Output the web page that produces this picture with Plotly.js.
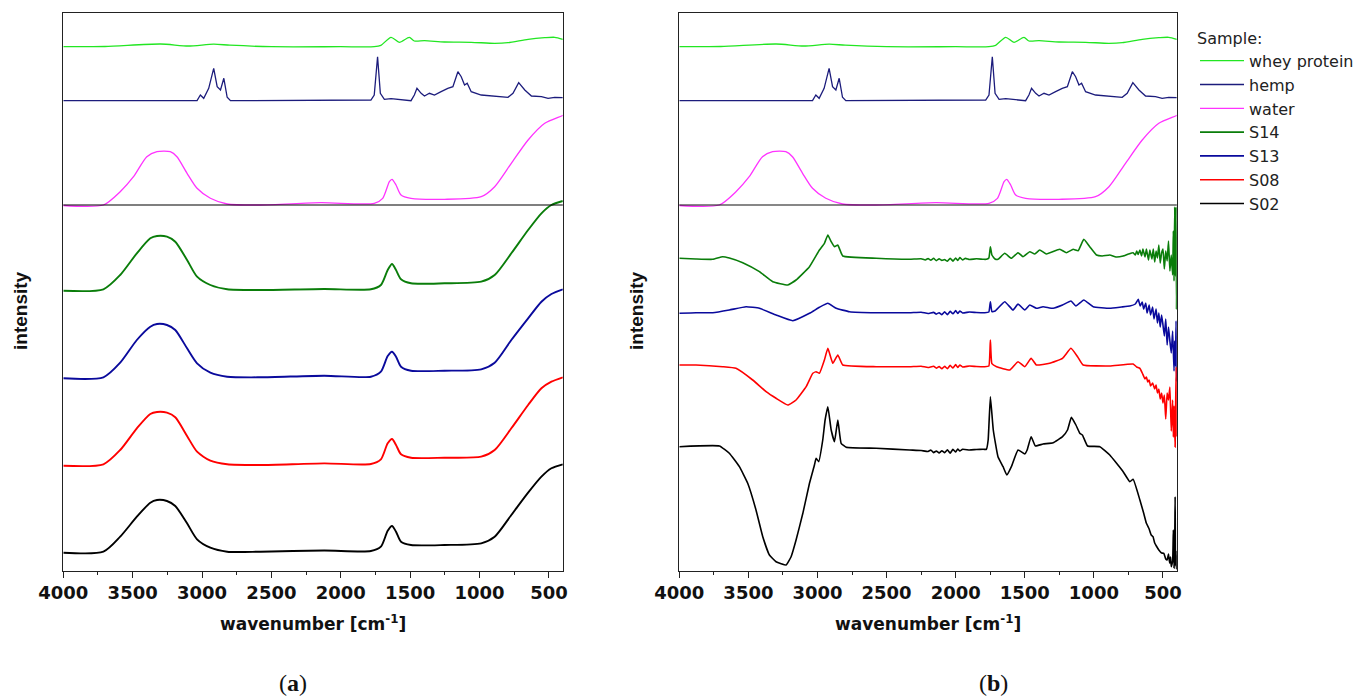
<!DOCTYPE html>
<html>
<head>
<meta charset="utf-8">
<script src="https://cdn.plot.ly/plotly-3.0.1.min.js"></script>
<style>html,body{margin:0;padding:0;background:#fff;}#chart{width:1362px;height:697px;}</style>
</head>
<body>
<div id="chart"></div>
<script>
// ---------- reference spectra (top section, shared by both panels) ----------
const wnWhey = [4000, 3700, 3300, 3100, 2916, 2800, 2500, 2000, 1759, 1711, 1638, 1578, 1506, 1470, 1397, 1253, 1060, 891, 795, 650, 530, 458, 400];
const intWhey = [524.3, 524.5, 527, 525, 526.8, 525.8, 524.3, 524.3, 524.3, 525.7, 533.7, 528.7, 533.7, 530, 530.3, 529, 528.7, 527.7, 528.3, 531.7, 533.3, 533.7, 531.7];

const wnHemp = [4000, 3036, 3012, 2988, 2952, 2916, 2891, 2867, 2843, 2819, 2795, 1783, 1759, 1735, 1715, 1686, 1638, 1494, 1470, 1451, 1421, 1397, 1361, 1325, 1277, 1229, 1192, 1156, 1132, 1108, 1089, 1060, 988, 891, 795, 759, 718, 674, 626, 554, 506, 458, 400];
const intHemp = [470.3, 470.3, 476, 472.7, 482.7, 502.7, 484.3, 481, 492.7, 473.7, 470.3, 471, 476, 514.3, 477.7, 471.7, 472.3, 470.3, 476, 482.7, 477.7, 475, 477.7, 476, 479.3, 482.7, 484.3, 499.3, 494.3, 486, 487.7, 479.3, 476, 475, 473.7, 477.7, 488.3, 481, 475, 474.3, 472.7, 473.7, 473.3];

const wnWater = [4000, 3711, 3590, 3494, 3398, 3325, 3229, 3181, 3108, 3036, 2940, 2819, 2578, 2144, 1759, 1698, 1650, 1631, 1602, 1566, 1494, 1253, 988, 891, 771, 650, 530, 409, 400];
const intWater = [365.5, 366, 379.3, 394.3, 414.3, 419.3, 419.3, 414.3, 397.7, 382.7, 372.7, 367, 366, 368.3, 367.7, 372.7, 389.3, 391.7, 386, 376, 372.7, 371.7, 374.3, 384.3, 407.7, 431, 447.7, 455, 455.7];

// ---------- panel (a): samples ----------
const wnA = [4000, 3711, 3590, 3470, 3373, 3325, 3253, 3193, 3108, 3036, 2940, 2819, 2578, 2120, 1783, 1711, 1662, 1631, 1602, 1566, 1494, 1253, 988, 891, 771, 650, 554, 482, 400];
const s14A = [280.3, 281.7, 296, 317.7, 332.7, 335, 334.3, 329.3, 311, 294.3, 286, 281.7, 281, 282, 281.7, 286, 301, 307, 301, 291.7, 287.7, 287.7, 289.3, 296, 317.7, 341, 357.7, 366, 370];
const s13A = [192.7, 193.7, 208.3, 231, 244.3, 247, 246, 241, 222.7, 207.7, 198.3, 194.3, 193.7, 195.3, 194.3, 199.3, 215, 219.3, 214.3, 204.3, 200.3, 200.3, 201.7, 208.3, 231, 252.7, 269.3, 277, 281.7];
const s08A = [105.3, 106.7, 121, 142.7, 157, 159, 158.3, 153.7, 135, 119.3, 110.3, 106.7, 106, 107.6, 107, 111.7, 127.7, 132, 126, 116.7, 113.3, 113.3, 114.3, 121, 142.7, 166, 182.7, 189.3, 193.7];
const s02A = [18.3, 19.3, 34.3, 54.3, 68.3, 71, 70, 65, 47.7, 31.7, 23.3, 19.3, 19.3, 20.5, 20, 24.3, 40.3, 45, 39.3, 29.3, 26, 26, 27.7, 34.3, 56, 78.3, 94.3, 102.7, 106.7];

// ---------- panel (b): samples ----------
const wnS14B = [4000, 3879, 3758, 3686, 3638, 3541, 3420, 3324, 3215, 3155, 3058, 2986, 2950, 2925, 2901, 2877, 2853, 2817, 2575, 2334, 2250, 2220, 2200, 2180, 2160, 2140, 2120, 2100, 2080, 2060, 2040, 2020, 2000, 1985, 1970, 1950, 1930, 1900, 1850, 1800, 1778, 1760, 1749, 1738, 1715, 1694, 1645, 1597, 1549, 1513, 1464, 1428, 1392, 1343, 1247, 1199, 1150, 1114, 1073, 1030, 981, 940, 885, 840, 788, 750, 716, 700, 690, 680, 667, 655, 645, 630, 620, 605, 595, 580, 570, 560, 550, 540, 530, 520, 510, 500, 490, 480, 470, 460, 450, 440, 430, 425, 420, 415, 410, 405, 402, 400];
const s14B = [312.7, 312, 311.7, 314.3, 313, 308.3, 299.3, 289.3, 286, 291, 304.3, 321, 327.7, 336, 329.3, 324.3, 326, 315, 312.7, 311.7, 312.3, 311, 312.5, 310.8, 312.6, 310.4, 312.2, 310.6, 311.5, 309.8, 312.8, 309.9, 313, 310.5, 313.4, 311, 312.6, 311.5, 312.2, 311.7, 311.7, 313, 324.3, 316, 312, 311.7, 317.7, 312.7, 318.3, 314.3, 319.3, 317, 321, 317, 321.7, 318.3, 321.7, 320.3, 331.7, 324.3, 316, 315, 316, 314, 315, 317, 318.3, 316, 320, 316.5, 321, 315, 322, 314, 322, 311, 321, 312, 322, 309, 320, 313, 326, 308, 318, 322, 302, 320, 310, 330, 300, 316, 296, 340, 290, 364, 295, 364, 262, 300];

const wnS13B = [4000, 3879, 3758, 3638, 3517, 3420, 3300, 3179, 3058, 2986, 2925, 2865, 2768, 2575, 2334, 2250, 2200, 2160, 2140, 2120, 2100, 2080, 2060, 2040, 2020, 2000, 1985, 1970, 1950, 1900, 1850, 1790, 1760, 1749, 1738, 1715, 1645, 1585, 1549, 1500, 1464, 1416, 1368, 1295, 1227, 1166, 1130, 1073, 1005, 885, 800, 740, 700, 679, 665, 650, 640, 625, 615, 600, 590, 575, 565, 550, 540, 530, 520, 510, 500, 490, 480, 470, 460, 450, 440, 430, 420, 415, 410, 405, 402, 400];
const s13B = [257.7, 258.3, 258.3, 261, 264.3, 262.7, 256, 250.3, 257.7, 263.7, 267.7, 262.7, 259.3, 258.3, 258.3, 258.8, 257.5, 258.6, 256.9, 258.3, 256.2, 259.2, 256.4, 259.6, 257.2, 260.4, 257.5, 260, 258, 259, 258.5, 258.3, 259, 269.3, 259.3, 260, 269.3, 261, 267, 261, 266, 262.7, 264.3, 262.7, 266, 270, 265, 271, 264.3, 262.7, 264, 265, 267, 271.7, 265, 269, 262, 268, 258, 266, 256, 264, 252, 262, 248, 258, 244, 256, 246, 235, 252, 226, 244, 230, 218, 240, 200, 230, 205, 250, 190, 195];

const wnS08B = [4000, 3879, 3686, 3590, 3469, 3372, 3300, 3215, 3155, 3082, 3034, 3010, 2986, 2950, 2925, 2889, 2853, 2817, 2575, 2334, 2250, 2200, 2160, 2140, 2120, 2100, 2080, 2060, 2040, 2020, 2000, 1985, 1970, 1950, 1900, 1850, 1790, 1760, 1749, 1738, 1704, 1609, 1549, 1500, 1454, 1416, 1320, 1227, 1166, 1118, 1078, 885, 716, 690, 667, 650, 630, 620, 610, 600, 590, 575, 560, 550, 540, 530, 520, 510, 500, 490, 480, 470, 460, 450, 440, 430, 425, 420, 412, 408, 404, 402, 400];
const s08B = [206, 206, 204.3, 202.7, 191, 179.3, 172.7, 166, 171, 184.3, 197.7, 199.3, 197.7, 211, 222.7, 207.7, 216, 206, 204.3, 204.3, 204.8, 203.5, 204.8, 202.8, 204.4, 202.2, 204.8, 202.3, 205.6, 203, 206.4, 203.5, 206, 204, 205, 204.5, 204.3, 205, 231, 207.3, 204.3, 201, 209.3, 204.3, 212.7, 206, 207.7, 212.7, 222.7, 214.3, 206, 205, 207, 204, 202.7, 198, 192, 194, 189, 191, 185, 188, 182, 186, 178, 182, 172, 178, 168, 176, 152, 178, 171, 184, 140, 171, 134, 165, 124, 170, 204, 135, 150];

const wnS02B = [4000, 3710, 3638, 3565, 3505, 3445, 3396, 3348, 3300, 3227, 3191, 3155, 3106, 3058, 3022, 3010, 2991, 2962, 2945, 2925, 2901, 2877, 2853, 2829, 2792, 2575, 2334, 2250, 2200, 2180, 2160, 2140, 2120, 2100, 2080, 2060, 2040, 2020, 2000, 1985, 1970, 1950, 1900, 1850, 1800, 1778, 1765, 1749, 1728, 1694, 1657, 1630, 1597, 1549, 1500, 1483, 1454, 1423, 1368, 1295, 1227, 1191, 1163, 1130, 1102, 1083, 1046, 957, 885, 788, 740, 716, 667, 640, 620, 600, 585, 572, 560, 548, 530, 510, 494, 480, 470, 460, 452, 445, 440, 430, 425, 420, 415, 412, 409, 405, 402, 400];
const s02B = [124.3, 125, 117.7, 104.3, 87.7, 61, 34.3, 16, 9.3, 6, 14.3, 31, 57.7, 87.7, 106, 112.7, 109.3, 131, 151, 164.3, 141, 129.3, 151, 127.7, 123.7, 122.7, 121, 120.5, 119.5, 121, 118.4, 120, 118, 120.3, 118.3, 121.2, 117.9, 121.6, 119, 122, 120, 121.8, 121, 121.5, 121.7, 121.7, 131, 174.3, 141, 114.3, 104.3, 96, 104.3, 121, 117, 121, 134.3, 125, 127, 128.3, 134.3, 141, 153.7, 146, 137.7, 136, 125, 124.3, 116, 99.3, 89.3, 91.7, 71, 58, 47.7, 42, 36, 34.3, 28, 25, 21, 18, 17.7, 12, 11, 17, 8, 14, 4.3, 10, 41, 3, 30, 74.3, 5, 20, 2, 10];

const seriesNames = ["whey protein", "hemp", "water", "S14", "S13", "S08", "S02"];
const seriesColors = ["#22e622", "#1c1c7c", "#ff33ff", "#0a7d0a", "#0a0a9c", "#ff0000", "#000000"];
const xTickVals = [4000, 3500, 3000, 2500, 2000, 1500, 1000, 500];
const xTickText = ["4000", "3500", "3000", "2500", "2000", "1500", "1000", "500"];
const separatorLevel = 366;

// ---------- build traces ----------
function tr(x, y, idx, xa, ya, width, shape, smooth, legend) {
  return {
    type: "scatter", mode: "lines", x: x, y: y, xaxis: xa, yaxis: ya,
    name: seriesNames[idx], showlegend: legend, legendrank: idx + 1,
    line: {color: seriesColors[idx], width: width, shape: shape, smoothing: smooth},
    hoverinfo: "skip"
  };
}
const traces = [
  tr(wnWhey, intWhey, 0, "x", "y", 1.3, "spline", 0.7, false),
  tr(wnHemp, intHemp, 1, "x", "y", 1.3, "linear", 0, false),
  tr(wnWater, intWater, 2, "x", "y", 1.3, "spline", 0.7, false),
  tr(wnA, s14A, 3, "x", "y", 1.9, "spline", 0.7, false),
  tr(wnA, s13A, 4, "x", "y", 1.9, "spline", 0.7, false),
  tr(wnA, s08A, 5, "x", "y", 1.9, "spline", 0.7, false),
  tr(wnA, s02A, 6, "x", "y", 1.9, "spline", 0.7, false),
  tr(wnWhey, intWhey, 0, "x2", "y2", 1.3, "spline", 0.7, true),
  tr(wnHemp, intHemp, 1, "x2", "y2", 1.3, "linear", 0, true),
  tr(wnWater, intWater, 2, "x2", "y2", 1.3, "spline", 0.7, true),
  tr(wnS14B, s14B, 3, "x2", "y2", 1.6, "spline", 0.35, true),
  tr(wnS13B, s13B, 4, "x2", "y2", 1.6, "spline", 0.35, true),
  tr(wnS08B, s08B, 5, "x2", "y2", 1.6, "spline", 0.35, true),
  tr(wnS02B, s02B, 6, "x2", "y2", 1.6, "spline", 0.35, true)
];

const W = 1362, H = 697;
const axisFont = {family: "DejaVu Sans", size: 18, color: "#111", weight: "bold"};
function xAxis(domain, anchor) {
  return {
    domain: domain, anchor: anchor, range: [4000, 400], autorange: false,
    tickmode: "array", tickvals: xTickVals, ticktext: xTickText,
    ticks: "outside", ticklen: 6, tickwidth: 1, tickcolor: "#222",
    minor: {ticks: "outside", ticklen: 3, tickwidth: 1, tickcolor: "#222", dtick: 250, tick0: 0, showgrid: false},
    showline: true, mirror: true, linecolor: "#222", linewidth: 1,
    showgrid: false, zeroline: false, tickfont: axisFont, automargin: false
  };
}
function yAxis(domain, anchor) {
  return {
    domain: domain, anchor: anchor, range: [0.5, 558.5], autorange: false,
    showticklabels: false, ticks: "", showline: true, mirror: true,
    linecolor: "#222", linewidth: 1, showgrid: false, zeroline: false, automargin: false
  };
}
const yDom = [1 - 570.5 / H, 1 - 12.5 / H];
const titleFont = {family: "DejaVu Sans", size: 17, color: "#111", weight: "bold"};
const yTitleFont = {family: "Liberation Sans", size: 19, color: "#111", weight: "bold"};
const capFont = {family: "Liberation Serif", size: 24, color: "#111"};
const legendFont = {family: "DejaVu Sans", size: 16, color: "#222"};

const layout = {
  width: W, height: H, margin: {l: 0, r: 0, t: 0, b: 0, pad: 0, autoexpand: false},
  paper_bgcolor: "#fff", plot_bgcolor: "#fff",
  xaxis: xAxis([63.3 / W, 562.8 / W], "y"),
  yaxis: yAxis(yDom, "x"),
  xaxis2: xAxis([679.3 / W, 1176.8 / W], "y2"),
  yaxis2: yAxis(yDom, "x2"),
  showlegend: true,
  legend: {
    x: 1195 / W, y: 1 - 23 / H, xanchor: "left", yanchor: "top",
    bgcolor: "rgba(0,0,0,0)", borderwidth: 0, traceorder: "normal",
    font: legendFont,
    title: {text: "Sample:", font: legendFont},
    itemwidth: 44, tracegroupgap: 0
  },
  shapes: [
    {type: "line", xref: "x domain", yref: "y", x0: 0, x1: 1, y0: separatorLevel, y1: separatorLevel, line: {color: "#000", width: 1.2}},
    {type: "line", xref: "x2 domain", yref: "y2", x0: 0, x1: 1, y0: separatorLevel, y1: separatorLevel, line: {color: "#111", width: 1.2}}
  ],
  annotations: [
    {xref: "paper", yref: "paper", x: 312.5 / W, y: 1 - 623 / H, xanchor: "center", yanchor: "middle", showarrow: false, text: "wavenumber [cm<sup>-1</sup>]", font: titleFont},
    {xref: "paper", yref: "paper", x: 928 / W, y: 1 - 623 / H, xanchor: "center", yanchor: "middle", showarrow: false, text: "wavenumber [cm<sup>-1</sup>]", font: titleFont},
    {xref: "paper", yref: "paper", x: 20 / W, y: 1 - 311 / H, xanchor: "center", yanchor: "middle", showarrow: false, textangle: -90, text: "intensity", font: yTitleFont},
    {xref: "paper", yref: "paper", x: 636 / W, y: 1 - 311 / H, xanchor: "center", yanchor: "middle", showarrow: false, textangle: -90, text: "intensity", font: yTitleFont},
    {xref: "paper", yref: "paper", x: 293 / W, y: 1 - 683 / H, xanchor: "center", yanchor: "middle", showarrow: false, text: "(<b>a</b>)", font: capFont},
    {xref: "paper", yref: "paper", x: 993 / W, y: 1 - 683 / H, xanchor: "center", yanchor: "middle", showarrow: false, text: "(<b>b</b>)", font: capFont}
  ]
};

Plotly.newPlot("chart", traces, layout, {staticPlot: true, displayModeBar: false});
</script>
</body>
</html>
